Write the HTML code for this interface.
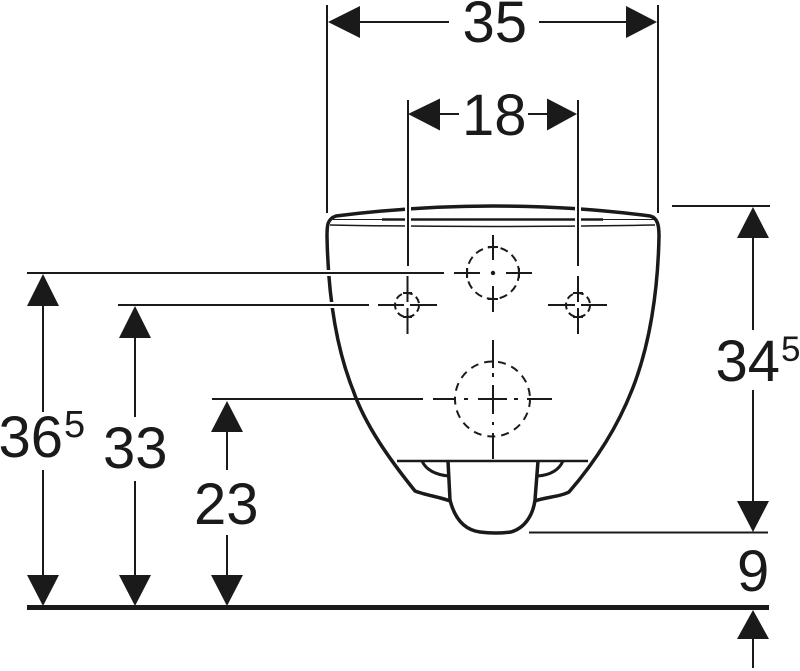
<!DOCTYPE html>
<html><head><meta charset="utf-8"><style>html,body{margin:0;padding:0;background:#fff}svg{display:block}text{font-family:"Liberation Sans",sans-serif;fill:#1a1a1a}</style></head>
<body>
<svg width="800" height="671" viewBox="0 0 800 671" xmlns="http://www.w3.org/2000/svg">
<rect width="800" height="671" fill="#fff"/>
<g fill="none" stroke="#1a1a1a" stroke-width="2">
<!-- toilet body -->
<path stroke-width="3.500" d="M327,236 C327,226 327,219 336,216 C400,208 450,206 493,206 C540,206 590,208 650,216 C658,218 659,226 659,236 C658,290 650,345 632,390 C617,428 595,462 569,492 C560,497 545,497 535,501 M327,236 C328,290 335,345 353,390 C365,425 390,460 415,491 C425,495 440,497 450,501"/>
<path d="M382,219.500 H603" stroke-width="2.500"/>
<path d="M333,219.500 H655" stroke-width="1"/>
<path d="M330,225 Q490,228 655,225" stroke-width="1.500"/>
<!-- bowl -->
<path stroke-width="3.500" d="M448,461 L450,500 C455,520 465,530 480,532 Q495,534 511,532 C525,528 533,515 535,500 L538,461"/>
<path stroke-width="2.500" d="M397,461 H588"/>
<path stroke-width="3" d="M422,461 C426,470 436,475 449,476 M563,461 C559,470 550,475 538,476"/>
<!-- halo under lines crossing the outline -->
<path stroke="#fff" stroke-width="6" d="M408,200 V266 M578,200 V266 M320,273 H340 M325,305 H345"/>
<!-- extension lines -->
<path d="M327,5 V213 M658,5 V213 M408,100 V266 M578,100 V266 M27,273 H444 M118,305 H369 M212,399 H423 M672,206 H770 M529,532.500 H768"/>
<!-- centre marks top -->
<circle cx="493" cy="273" r="26" stroke-dasharray="8 5"/>
<path d="M493,235 V260 M493,286 V312 M454,273 H480 M506,273 H532 M488,247 H498 M488,299 H498 M467,268 V278 M519,268 V278"/>
<circle cx="493" cy="273" r="2.200" fill="#1a1a1a" stroke="none"/>
<!-- small left -->
<circle cx="407" cy="305" r="12" stroke-dasharray="7 4"/>
<path d="M378,305 H404 M410,305 H437 M407.500,276 V302 M407.500,308 V334 M403,293 H412 M403,317 H412"/>
<!-- small right -->
<circle cx="578" cy="305" r="12" stroke-dasharray="7 4"/>
<path d="M548,305 H575 M581,305 H607 M578,276 V302 M578,308 V334 M573,293 H583 M573,317 H583"/>
<!-- lower circle -->
<circle cx="492.500" cy="399" r="37.500" stroke-dasharray="8 6"/>
<path d="M493,340 V368 M493,373 V377 M493,385 V414 M493,422 V425 M493,433 V459 M433,399 H455 M464,399 H468 M478,399 H507 M514,399 H518 M527,399 H552"/>
<!-- dim lines -->
<path d="M355,22 H449 M539,22 H632 M436,114 H459 M528,114 H551 M43,300 V412 M43,470 V580 M135,335 V417 M135,481 V580 M227,428 V470 M227,535 V580 M753,236 V330 M753,390 V505 M753,636 V668"/>
</g>
<rect x="27" y="605" width="742" height="5" fill="#1a1a1a"/>
<g fill="#1a1a1a">
<path d="M328,22 L360,6 V38 Z M657,22 L626,6 V38 Z M408,114 L440,98.500 V130.500 Z M577,114 L547,98.500 V130.500 Z"/>
<path d="M43,274 L27,306 H59 Z M43,606 L27,575 H59 Z M135,306 L119,338 H151 Z M135,606 L119,575 H151 Z M227,401 L211,432 H243 Z M227,606 L211,575 H243 Z"/>
<path d="M753,207 L737,238 H769 Z M753,532 L737,501 H769 Z M753,610 L737,639 H769 Z"/>
</g>
<g font-size="58">
<text x="462.500" y="42">35</text>
<text x="462" y="135">18</text>
<text x="-1.500" y="457">36</text>
<text x="103" y="468">33</text>
<text x="194" y="524">23</text>
<text x="715.500" y="381">34</text>
<text x="737" y="591">9</text>
</g>
<g font-size="38">
<text x="64" y="437">5</text>
</g>
<g font-size="35">
<text x="781" y="361">5</text>
</g>
</svg>
</body></html>
